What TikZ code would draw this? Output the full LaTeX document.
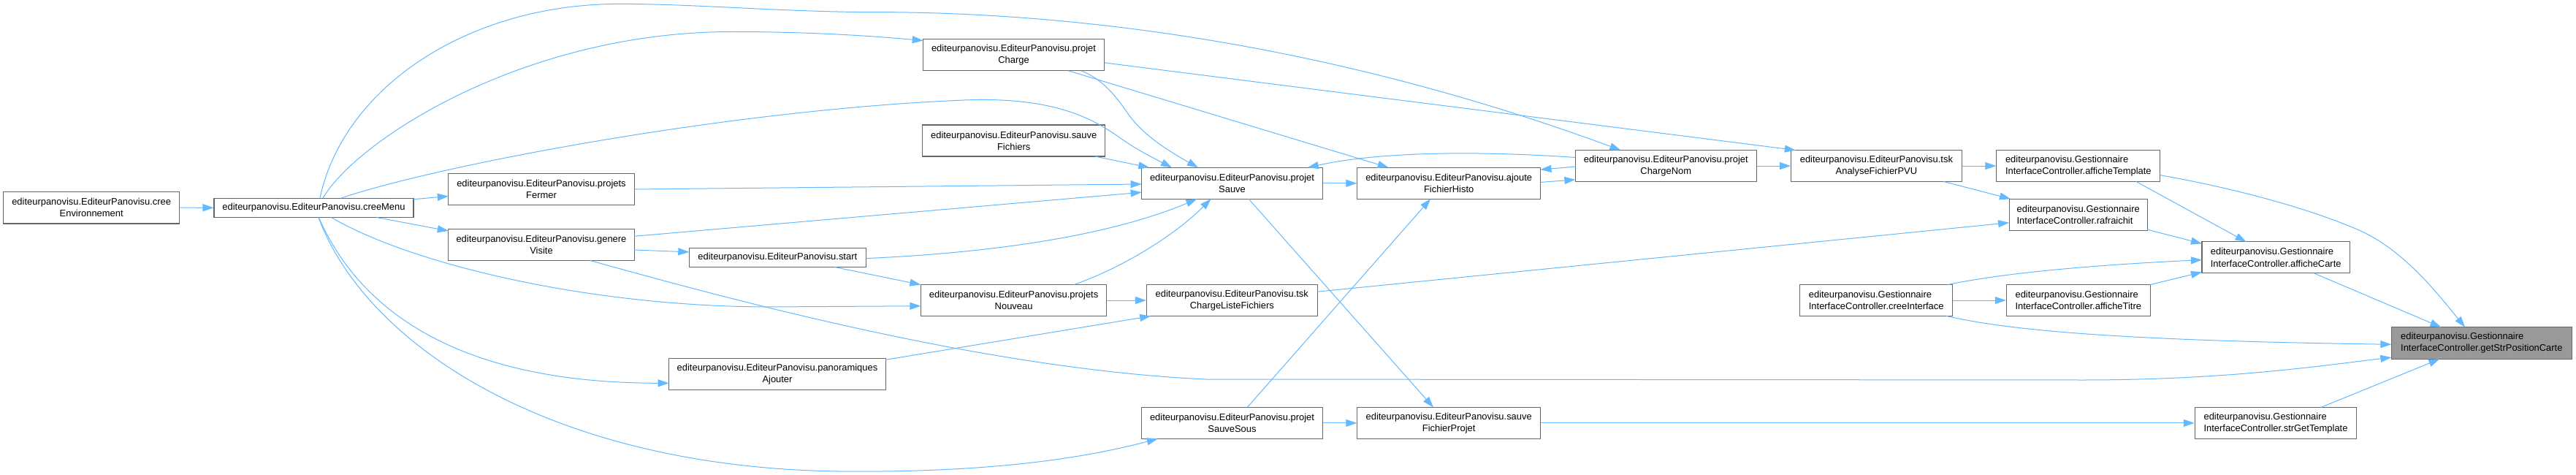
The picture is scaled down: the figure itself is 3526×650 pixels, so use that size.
\documentclass[tikz,border=0pt]{standalone}
\usepackage{fontspec}
\setmainfont{Liberation Sans}
\usetikzlibrary{arrows.meta}
\definecolor{edgeblue}{RGB}{99,184,255}
\definecolor{bordergray}{RGB}{102,102,102}
\definecolor{hlgray}{RGB}{153,153,153}
\newcommand\nfont{\fontsize{12.93}{16.2}\selectfont}
\begin{document}
\begin{tikzpicture}[x=1pt,y=-1pt,
  box/.style={draw=bordergray, fill=white, line width=1.1pt, inner sep=0pt, minimum height=43pt, font=\nfont, align=center},
  lbox/.style={box, align=left},
  onebox/.style={box, minimum height=26.5pt},
  edge/.style={draw=edgeblue, line width=1pt, -{Triangle[length=15pt,width=10pt]}}]
\useasboundingbox (0,0) rectangle (3526,650);

% nodes
\node[box, minimum width=241pt, minimum height=43.5pt] (cEnv) at (125.2,284.2) {editeurpanovisu.EditeurPanovisu.cree\\Environnement};
\node[onebox, minimum width=273pt] (cMenu) at (429.5,284.3) {editeurpanovisu.EditeurPanovisu.creeMenu};
\node[box, minimum width=254.5pt] (pFermer) at (741,259) {editeurpanovisu.EditeurPanovisu.projets\\Fermer};
\node[box, minimum width=254.5pt] (gVisite) at (741,335.2) {editeurpanovisu.EditeurPanovisu.genere\\Visite};
\node[onebox, minimum width=242pt] (start) at (1064.3,352.3) {editeurpanovisu.EditeurPanovisu.start};
\node[box, minimum width=296.8pt] (pAjouter) at (1064,512.3) {editeurpanovisu.EditeurPanovisu.panoramiques\\Ajouter};
\node[box, minimum width=247.6pt] (pCharge) at (1387.5,75.3) {editeurpanovisu.EditeurPanovisu.projet\\Charge};
\node[box, minimum width=250.2pt] (sFichiers) at (1387.7,192.5) {editeurpanovisu.EditeurPanovisu.sauve\\Fichiers};
\node[box, minimum width=254.5pt] (pNouveau) at (1387.6,411) {editeurpanovisu.EditeurPanovisu.projets\\Nouveau};
\node[box, minimum width=247.8pt] (pSauve) at (1686.5,250.8) {editeurpanovisu.EditeurPanovisu.projet\\Sauve};
\node[box, minimum width=233.6pt] (cListe) at (1686.3,411) {editeurpanovisu.EditeurPanovisu.tsk\\ChargeListeFichiers};
\node[box, minimum width=247.8pt] (sSous) at (1686.5,578.9) {editeurpanovisu.EditeurPanovisu.projet\\SauveSous};
\node[box, minimum width=250.6pt] (aHisto) at (1983.2,250.8) {editeurpanovisu.EditeurPanovisu.ajoute\\FichierHisto};
\node[box, minimum width=250.6pt] (sProjet) at (1983.2,578.9) {editeurpanovisu.EditeurPanovisu.sauve\\FichierProjet};
\node[box, minimum width=247.8pt] (cNom) at (2280.3,227) {editeurpanovisu.EditeurPanovisu.projet\\ChargeNom};
\node[box, minimum width=233.5pt] (aPVU) at (2568.4,227) {editeurpanovisu.EditeurPanovisu.tsk\\AnalyseFichierPVU};
\node[lbox, minimum width=223.8pt] (aTemplate) at (2844.8,227) {editeurpanovisu.Gestionnaire\\InterfaceController.afficheTemplate};
\node[lbox, minimum width=189.2pt] (rafraichit) at (2844.7,293.7) {editeurpanovisu.Gestionnaire\\InterfaceController.rafraichit};
\node[lbox, minimum width=208.6pt] (cInterface) at (2568.2,411) {editeurpanovisu.Gestionnaire\\InterfaceController.creeInterface};
\node[lbox, minimum width=196.9pt] (aTitre) at (2844.8,411) {editeurpanovisu.Gestionnaire\\InterfaceController.afficheTitre};
\node[lbox, minimum width=202.5pt] (aCarte) at (3115.2,352.4) {editeurpanovisu.Gestionnaire\\InterfaceController.afficheCarte};
\node[lbox, minimum width=246.9pt, minimum height=43.5pt, fill=hlgray] (getStr) at (3396.8,469.5) {editeurpanovisu.Gestionnaire\\InterfaceController.getStrPositionCarte};
\node[lbox, minimum width=221.4pt] (sGet) at (3115,578.9) {editeurpanovisu.Gestionnaire\\InterfaceController.strGetTemplate};

% edges
\draw[edge] (cEnv.east) -- (cMenu.west);
\draw[edge] ([shift={(136.5,-11.6)}]cMenu.center) -- ([shift={(-127.25,9.5)}]pFermer.center);
\draw[edge] ([shift={(86.1,13.25)}]cMenu.center) -- ([shift={(-127.25,-19.2)}]gVisite.center);
\draw[edge] ([shift={(8.5,-13.25)}]cMenu.center) .. controls (470,120) and (640,5.4) .. (848,5.4) .. controls (950,5.4) and (1050,15) .. (1180,16.6) .. controls (1500,15) and (1850,70) .. ([shift={(-61.9,-21.5)}]cNom.center);
\draw[edge] ([shift={(12.5,-13.25)}]cMenu.center) .. controls (490,190) and (720,43.5) .. (1001,43.5) .. controls (1120,43.5) and (1200,50) .. ([shift={(-123.8,-19.8)}]pCharge.center);
\draw[edge] ([shift={(37.5,-13.25)}]cMenu.center) .. controls (600,226) and (1000,150) .. (1320,137) .. controls (1470,131) and (1515,178) .. (1550,200) .. controls (1568,211) and (1588,221) .. ([shift={(-82.5,-21.5)}]pSauve.center);
\draw[edge] ([shift={(24,13.25)}]cMenu.center) .. controls (560,360) and (800,419) .. (1050,420) -- ([shift={(-127.25,7.7)}]pNouveau.center);
\draw[edge] ([shift={(6.8,13.25)}]cMenu.center) .. controls (490,420) and (620,524.3) .. ([shift={(-148.4,12)}]pAjouter.center);
\draw[edge] ([shift={(6.5,13.25)}]cMenu.center) .. controls (500,470) and (750,640) .. (1150,645) .. controls (1350,647) and (1480,628) .. ([shift={(-101.7,21.5)}]sSous.center);
\draw[edge] (pFermer.east) -- ([shift={(-123.9,1.2)}]pSauve.center);
\draw[edge] ([shift={(127.25,-11.9)}]gVisite.center) -- ([shift={(-123.9,12.4)}]pSauve.center);
\draw[edge] ([shift={(127.25,6.8)}]gVisite.center) -- ([shift={(-121,-7.4)}]start.center);
\draw[edge] ([shift={(66.7,21.25)}]gVisite.center) .. controls (1000,410) and (1350,505) .. (1650,519) -- (2850,520) .. controls (3050,520) and (3180,500) .. ([shift={(-123.45,19.6)}]getStr.center);
\draw[edge] ([shift={(121,1.3)}]start.center) .. controls (1380,345) and (1530,318) .. ([shift={(-48.1,21.5)}]pSauve.center);
\draw[edge] ([shift={(78.3,13.25)}]start.center) -- ([shift={(-127.25,-21.4)}]pNouveau.center);
\draw[edge] ([shift={(92.1,21.5)}]pCharge.center) .. controls (1510,108) and (1530,135) .. (1545,157) .. controls (1565,185) and (1600,207) .. ([shift={(-46.5,-21.5)}]pSauve.center);
\draw[edge] ([shift={(74.8,21.5)}]pCharge.center) -- ([shift={(-82.5,-21.5)}]aHisto.center);
\draw[edge] ([shift={(123.8,10.5)}]pCharge.center) -- ([shift={(-110.6,-21.5)}]aPVU.center);
\draw[edge] ([shift={(111,21.5)}]sFichiers.center) -- ([shift={(-113.2,-21.5)}]pSauve.center);
\draw[edge] ([shift={(82.4,-21.5)}]pNouveau.center) .. controls (1540,365) and (1610,320) .. ([shift={(-29,21.5)}]pSauve.center);
\draw[edge] (pNouveau.east) -- (cListe.west);
\draw[edge] ([shift={(148.4,-20)}]pAjouter.center) -- ([shift={(-111.1,21.5)}]cListe.center);
\draw[edge] ([shift={(20.8,-21.5)}]sSous.center) -- ([shift={(-25.1,21.5)}]aHisto.center);
\draw[edge] ([shift={(22.7,21.5)}]pSauve.center) -- ([shift={(-21.2,-21.5)}]sProjet.center);
\draw[edge] (pSauve.east) -- (aHisto.west);
\draw[edge] ([shift={(-123.9,-11.5)}]cNom.center) .. controls (2050,208) and (1900,205) .. ([shift={(103.3,-21.5)}]pSauve.center);
\draw[edge] ([shift={(-123.9,1)}]cNom.center) -- ([shift={(125.3,-18.7)}]aHisto.center);
\draw[edge] ([shift={(125.3,-1.3)}]aHisto.center) -- ([shift={(-123.9,18.8)}]cNom.center);
\draw[edge] ([shift={(116.8,-11.8)}]cListe.center) -- ([shift={(-94.6,11)}]rafraichit.center);
\draw[edge] (sSous.east) -- (sProjet.west);
\draw[edge] (sProjet.east) -- (sGet.west);
\draw[edge] (cNom.east) -- (aPVU.west);
\draw[edge] (aPVU.east) -- (aTemplate.west);
\draw[edge] ([shift={(92.2,21.5)}]aPVU.center) -- ([shift={(-92.7,-21.5)}]rafraichit.center);
\draw[edge] (cInterface.east) -- (aTitre.west);
\draw[edge] ([shift={(98.1,-21.5)}]cInterface.center) .. controls (2750,372) and (2880,362) .. ([shift={(-101.25,3.2)}]aCarte.center);
\draw[edge] ([shift={(96.2,21.5)}]cInterface.center) .. controls (2750,452) and (2900,466) .. ([shift={(-123.45,1.8)}]getStr.center);
\draw[edge] ([shift={(79.1,21.5)}]aTemplate.center) -- ([shift={(-40.6,-21.5)}]aCarte.center);
\draw[edge] ([shift={(111.9,12.6)}]aTemplate.center) .. controls (3060,258) and (3160,285) .. (3229,315) .. controls (3290,342) and (3335,400) .. ([shift={(-22.7,-21.75)}]getStr.center);
\draw[edge] ([shift={(94.6,20.5)}]rafraichit.center) -- ([shift={(-101.25,-19)}]aCarte.center);
\draw[edge] ([shift={(98.45,-21.5)}]aTitre.center) -- ([shift={(-101.25,20)}]aCarte.center);
\draw[edge] ([shift={(52.2,21.5)}]aCarte.center) -- ([shift={(-55.5,-21.75)}]getStr.center);
\draw[edge] ([shift={(62,-21.5)}]sGet.center) -- ([shift={(-57.4,21.75)}]getStr.center);
\end{tikzpicture}
\end{document}
